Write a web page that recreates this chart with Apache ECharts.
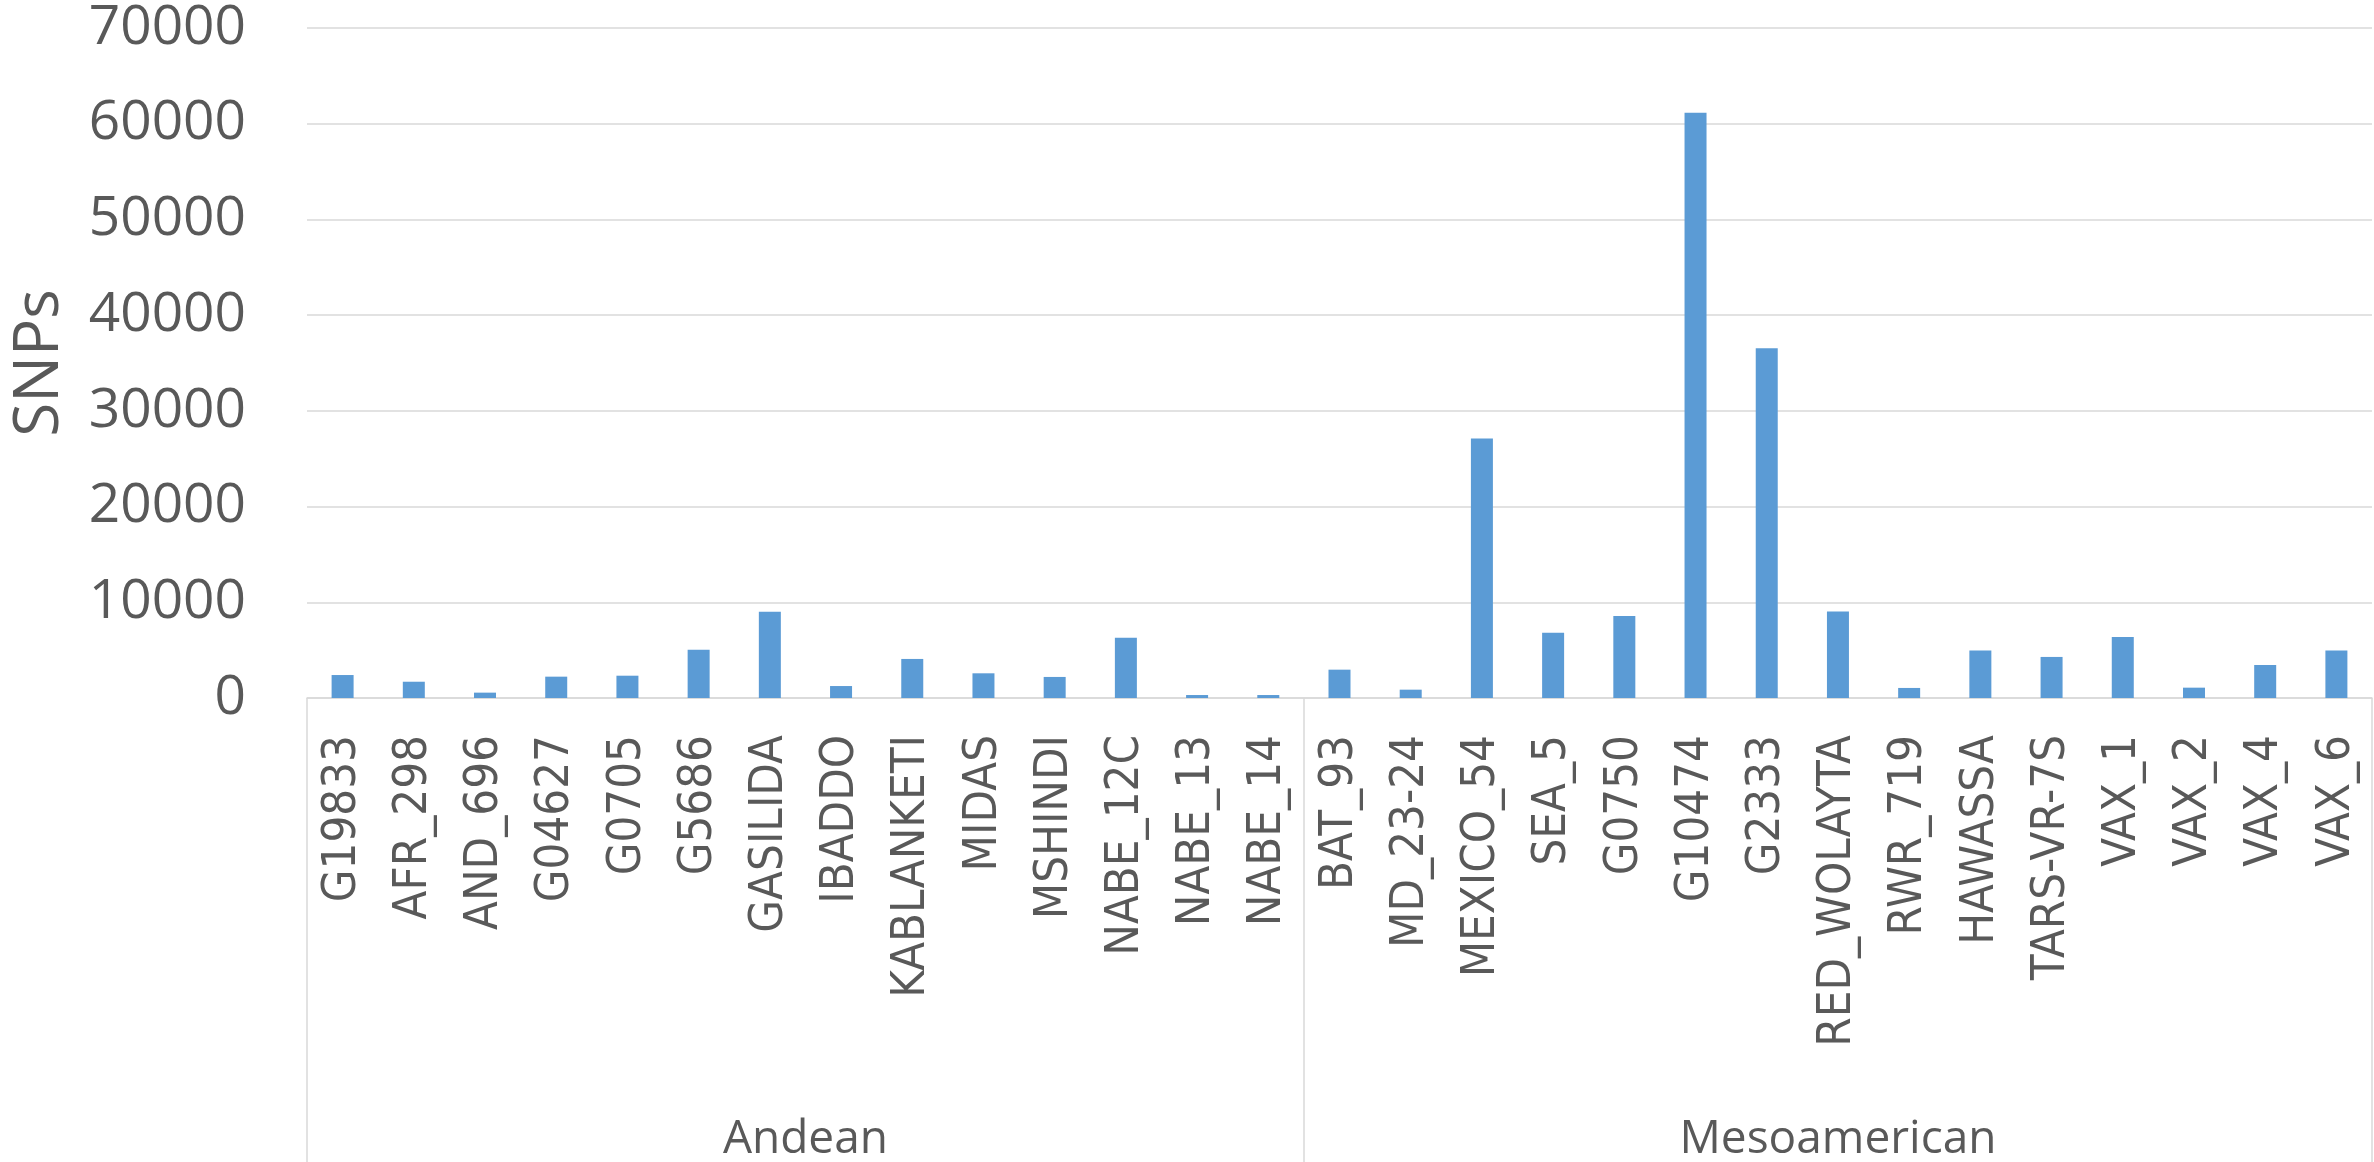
<!DOCTYPE html>
<html>
<head>
<meta charset="utf-8">
<script src="https://cdn.jsdelivr.net/npm/echarts@6/dist/echarts.min.js"></script>
<style>
  html, body { margin: 0; padding: 0; background: #fff; }
  #chart { width: 2374px; height: 1162px; }
</style>
</head>
<body>
<div id="chart"></div>
<script>
// categories, in the order they appear
const andean = ["G19833", "AFR_298", "AND_696", "G04627", "G0705", "G5686", "GASILIDA",
  "IBADDO", "KABLANKETI", "MIDAS", "MSHINDI", "NABE_12C", "NABE_13", "NABE_14"];
const mesoamerican = ["BAT_93", "MD_23-24", "MEXICO_54", "SEA_5", "G0750", "G10474", "G2333",
  "RED_WOLAYTA", "RWR_719", "HAWASSA", "TARS-VR-7S", "VAX_1", "VAX_2", "VAX_4", "VAX_6"];

// SNP counts
const andeanSnps = [2400, 1700, 560, 2230, 2330, 5050, 9000, 1250, 4080, 2580, 2200, 6300, 310, 310];
const mesoSnps = [2960, 870, 27100, 6830, 8570, 61150, 36530, 9030, 1050, 4950, 4290, 6380, 1080, 3450, 4950];

const groupNames = ["Andean", "Mesoamerican"];
const yTicks = [0, 10000, 20000, 30000, 40000, 50000, 60000, 70000];

const categories = andean.concat(mesoamerican);
const values = andeanSnps.concat(mesoSnps);

// group boundaries / centres on a 0..N value scale laid over the category axis
const bounds = [0, andean.length, categories.length];
const centres = [bounds[0] + andean.length / 2, bounds[1] + mesoamerican.length / 2];

const grey = "#595959";
const lineGrey = "#D9D9D9";

const myChart = echarts.init(document.getElementById("chart"));

const options = {
  animation: false,
  grid: {
    left: 307,
    right: 2,
    top: 28,
    bottom: 464,
    containLabel: false,
    outerBoundsMode: "none",
  },
  xAxis: [
    {
      type: "category",
      data: categories,
      axisLine: { show: true, lineStyle: { color: lineGrey, width: 1.5 } },
      axisTick: { show: false },
      axisLabel: {
        rotate: 90,
        margin: 37,
        interval: 0,
        color: grey,
        fontSize: 47,
        fontFamily: "'DejaVu Sans Condensed', 'DejaVu Sans'",
      },
      splitLine: { show: false },
    },
    {
      // second level: the two gene pools
      type: "value",
      position: "bottom",
      min: 0,
      max: categories.length,
      axisLine: { show: false },
      splitLine: { show: false },
      axisTick: {
        show: true,
        customValues: bounds,
        length: 470,
        lineStyle: { color: lineGrey, width: 1.5 },
      },
      axisLabel: {
        customValues: centres,
        margin: 419,
        color: grey,
        fontSize: 46,
        fontFamily: "'Open Sans'",
        formatter: (v) => (v === centres[0] ? groupNames[0] : groupNames[1]),
      },
    },
  ],
  yAxis: {
    type: "value",
    min: yTicks[0],
    max: yTicks[yTicks.length - 1],
    interval: 10000,
    name: "SNPs",
    nameLocation: "middle",
    nameRotate: 90,
    nameGap: 236,
    nameTextStyle: { color: grey, fontSize: 62, fontFamily: "'Open Sans'" },
    axisLine: { show: false },
    axisTick: { show: false },
    axisLabel: {
      margin: 61,
      color: grey,
      fontSize: 55,
      fontFamily: "'Open Sans'",
      formatter: (v) => String(v),
    },
    splitLine: { show: true, lineStyle: { color: lineGrey, width: 1.5 } },
  },
  series: [
    {
      name: "SNPs",
      type: "bar",
      xAxisIndex: 0,
      data: values,
      barWidth: 22,
      itemStyle: { color: "#5B9BD5" },
    },
  ],
};

myChart.setOption(options);
</script>
</body>
</html>
